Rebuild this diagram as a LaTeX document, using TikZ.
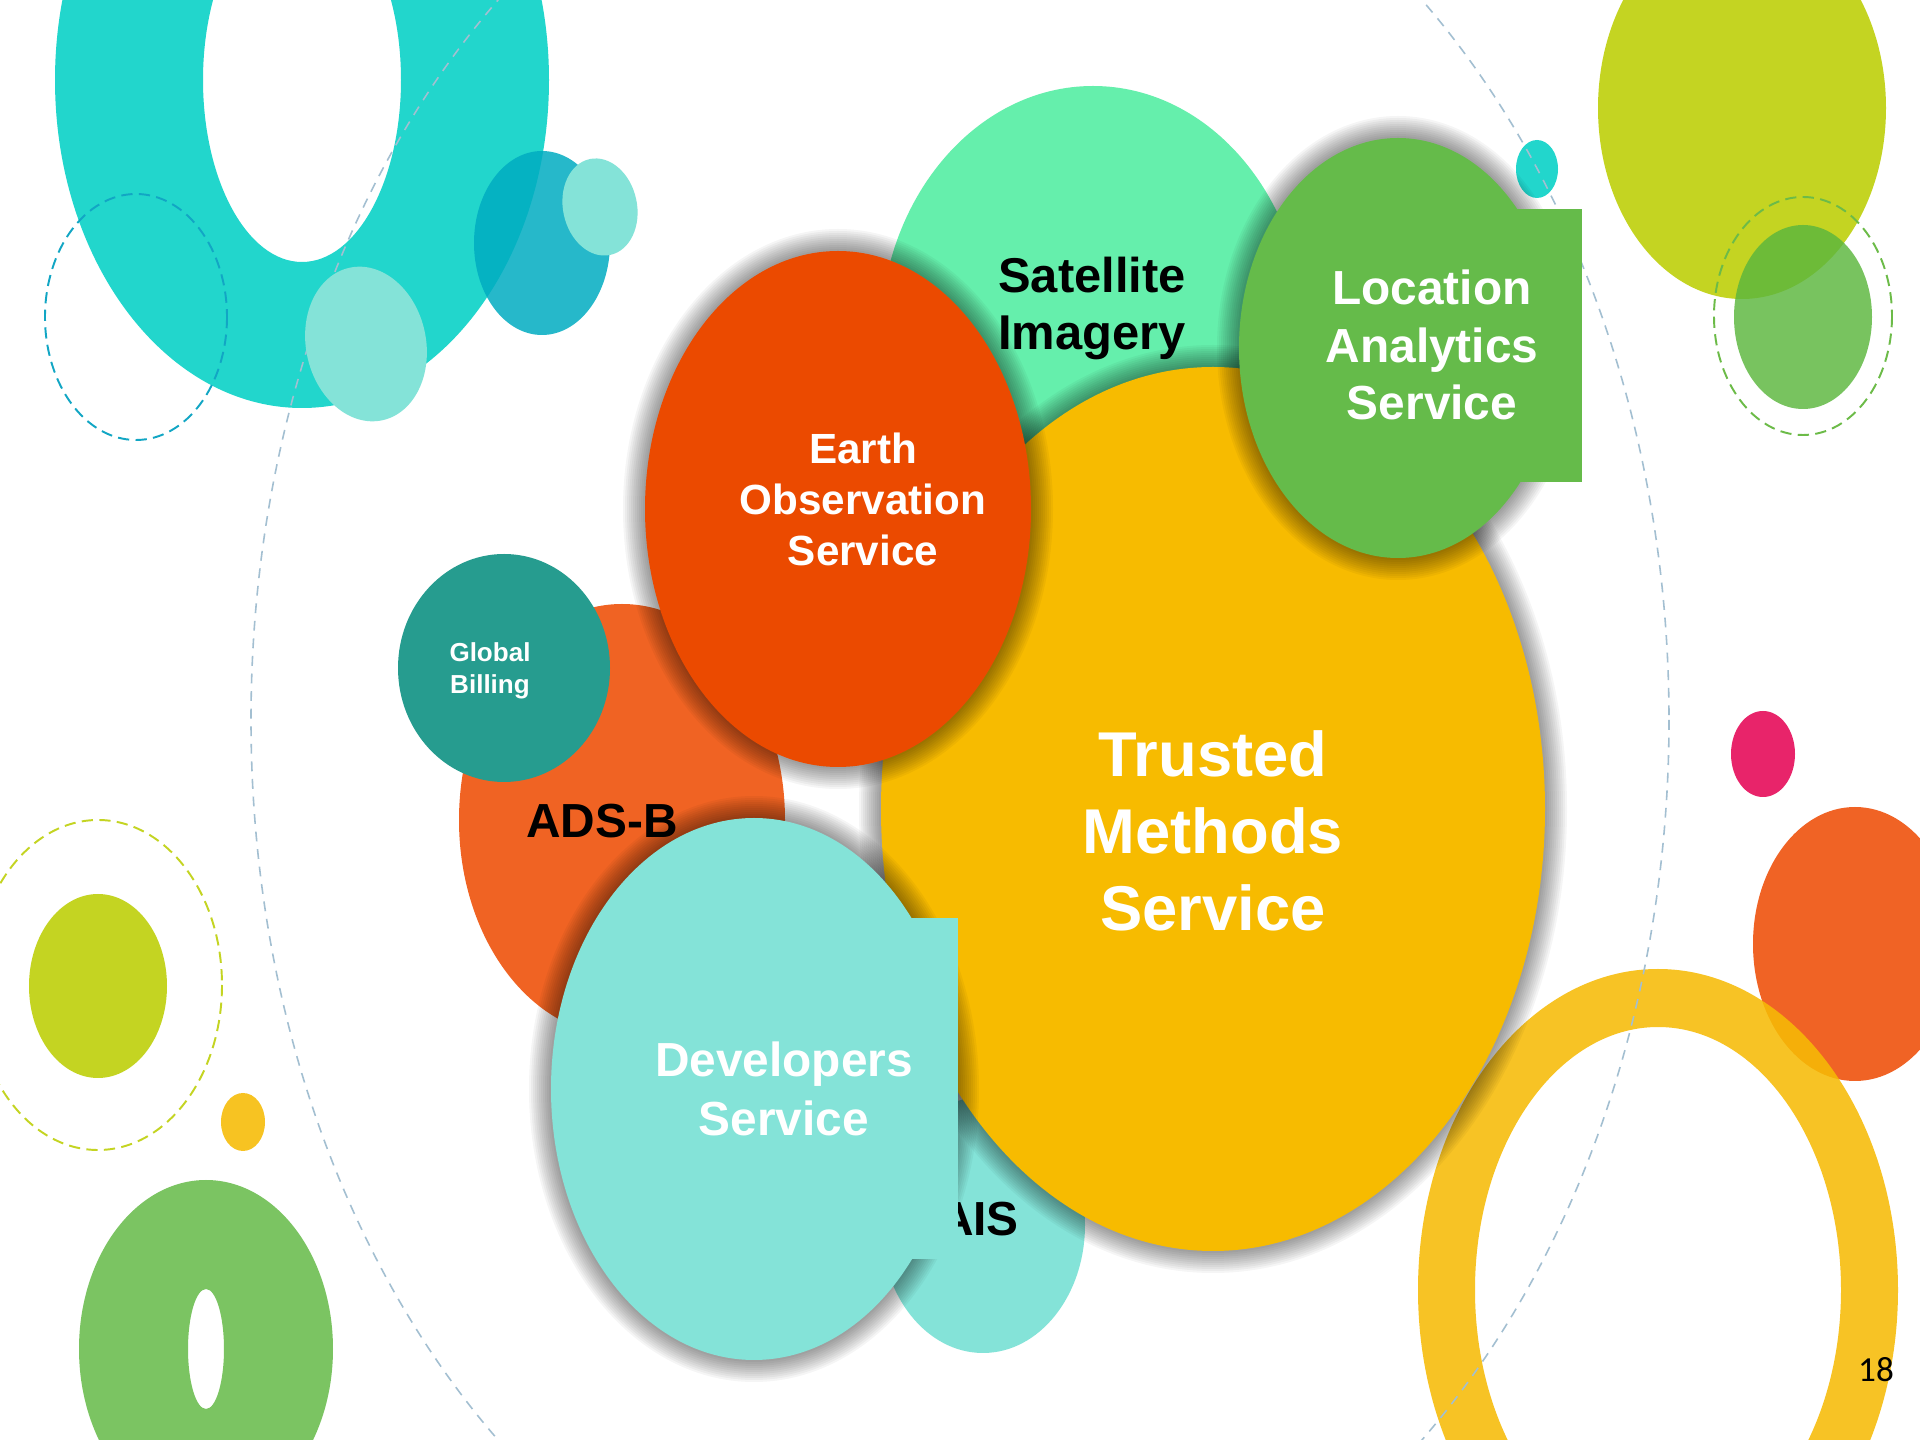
\documentclass[tikz,border=0pt]{standalone}
\usepackage{fontspec}
\setmainfont{Liberation Sans}
\newfontfamily\pgnumfont{Carlito}
\definecolor{cyanring}{HTML}{22D6CC}
\definecolor{lightcyan}{HTML}{84E3D8}
\definecolor{tealsemi}{HTML}{00ACC1}
\definecolor{dashcyan}{HTML}{12A6C4}
\definecolor{bigdash}{HTML}{A3BFD1}
\definecolor{ygreen}{HTML}{C4D422}
\definecolor{greensemi}{HTML}{5BB63D}
\definecolor{dashgreen}{HTML}{6CBB48}
\definecolor{smallyellow}{HTML}{F7C322}
\definecolor{greenring}{HTML}{7BC462}
\definecolor{magentadot}{HTML}{E8246A}
\definecolor{orangeR}{HTML}{F06325}
\definecolor{yellowring}{HTML}{F6BB05}
\definecolor{satgreen}{HTML}{65EFAC}
\definecolor{trustyellow}{HTML}{F7BB00}
\definecolor{locgreen}{HTML}{65BB4A}
\definecolor{earthred}{HTML}{EB4A00}
\definecolor{adsborange}{HTML}{F06323}
\definecolor{billteal}{HTML}{269C8F}
\tikzset{
  bubtext/.style={align=center, text width=8cm, anchor=base, inner sep=0pt},
  dashdeco/.style={line width=0.55pt, dash pattern=on 3.2pt off 1.8pt},
  bigdashline/.style={bigdash, line width=0.45pt, dash pattern=on 2.8pt off 2.2pt},
}
\newcommand{\halo}[4]{%
  \foreach \k in {1,...,11}{%
    \fill[black,opacity=0.04] (#1,#2) ellipse [x radius={#3+2*\k}, y radius={#4+2*\k}];}}
\begin{document}
\begin{tikzpicture}[x=0.01cm,y=-0.01cm]
\useasboundingbox (0,0) rectangle (1920,1440);
\clip (0,0) rectangle (1920,1440);
\fill[white] (0,0) rectangle (1920,1440);

% ---- decorations top-left
\fill[cyanring, even odd rule] (302,80) ellipse [x radius=247, y radius=328]
                               (302,80) ellipse [x radius=99, y radius=182];
\draw[dashcyan, dashdeco] (136,317) ellipse [x radius=91, y radius=123];

% ---- decorations right
\fill[cyanring] (1537,169) ellipse [x radius=21, y radius=29];
\fill[ygreen] (1742,108) ellipse [x radius=144, y radius=191];
\fill[greensemi, opacity=0.82] (1803,317) ellipse [x radius=69, y radius=92];
\draw[dashgreen, dashdeco] (1803,316) ellipse [x radius=89, y radius=119];
\fill[magentadot] (1763,754) ellipse [x radius=32, y radius=43];
\fill[orangeR] (1855,944) ellipse [x radius=102, y radius=137];
\fill[yellowring, opacity=0.87, even odd rule] (1658,1290) ellipse [x radius=240, y radius=321]
                                               (1658,1290) ellipse [x radius=183, y radius=263];

% ---- decorations bottom-left
\draw[ygreen, dashdeco] (98,985) ellipse [x radius=124, y radius=165];
\fill[ygreen] (98,986) ellipse [x radius=69, y radius=92];
\fill[smallyellow] (243,1122) ellipse [x radius=22, y radius=29];
\fill[greenring, even odd rule] (206,1349) ellipse [x radius=127, y radius=169]
                                (206,1349) ellipse [x radius=18, y radius=60];

% ---- big dashed ellipse
\draw[bigdashline] (960,720) ellipse [x radius=709, y radius=949];

% ---- small ellipses over the cyan ring
\fill[lightcyan, rotate around={12:(366,344)}] (366,344) ellipse [x radius=60, y radius=78];
\fill[tealsemi, opacity=0.85] (542,243) ellipse [x radius=68, y radius=92];
\fill[lightcyan, rotate around={12:(600,207)}] (600,207) ellipse [x radius=37, y radius=49];

% ---- AIS
\fill[lightcyan] (983,1225) ellipse [x radius=102, y radius=128];
\node[bubtext, font={\bfseries\fontsize{13.6pt}{16.5pt}\selectfont}, text=black] (ais) at (979,1236) {AIS};

% ---- Satellite Imagery
\fill[satgreen] (1093,340) ellipse [x radius=213, y radius=254];
\node[bubtext, font={\bfseries\fontsize{13.9pt}{16.2pt}\selectfont}, text=black] (sat) at (1092,293) {Satellite\\Imagery};

% ---- Trusted Methods Service
\halo{1213}{809}{332}{442}
\fill[trustyellow] (1213,809) ellipse [x radius=332, y radius=442];
\node[bubtext, font={\bfseries\fontsize{18pt}{21.8pt}\selectfont}, text=white] (tms) at (1213,777) {Trusted\\Methods\\Service};

% ---- Location Analytics Service
\halo{1398}{348}{159}{210}
\fill[locgreen] (1398,348) ellipse [x radius=159, y radius=210];
\fill[locgreen] (1440,209) rectangle (1582,482);
\node[bubtext, font={\bfseries\fontsize{13.6pt}{16.3pt}\selectfont}, text=white] (las) at (1432,305) {Location\\Analytics\\Service};

% ---- ADS-B
\fill[adsborange] (622,820) ellipse [x radius=163, y radius=216];
\node[bubtext, font={\bfseries\fontsize{13.6pt}{16pt}\selectfont}, text=black] (adsb) at (602,838) {ADS-B};

% ---- Earth Observation Service
\halo{838}{509}{193}{258}
\fill[earthred] (838,509) ellipse [x radius=193, y radius=258];
\node[bubtext, font={\bfseries\fontsize{12pt}{14.5pt}\selectfont}, text=white] (eos) at (863,464) {Earth\\Observation\\Service};

% ---- Global Billing
\fill[billteal] (504,668) ellipse [x radius=106, y radius=114];
\node[bubtext, font={\bfseries\fontsize{7.4pt}{9.1pt}\selectfont}, text=white] (gb) at (490,662) {Global\\Billing};

% ---- Developers Service
\halo{754}{1089}{203}{271}
\fill[lightcyan] (754,1089) ellipse [x radius=203, y radius=271];
\fill[lightcyan] (850,918) rectangle (958,1259);
\node[bubtext, font={\bfseries\fontsize{13.6pt}{16.5pt}\selectfont}, text=white] (dev) at (784,1077) {Developers\\Service};

% ---- page number
\node[anchor=base, inner sep=0pt, font={\pgnumfont\fontsize{10pt}{12pt}\selectfont}, text=black] (pg) at (1876,1382) {18};
\end{tikzpicture}
\end{document}
